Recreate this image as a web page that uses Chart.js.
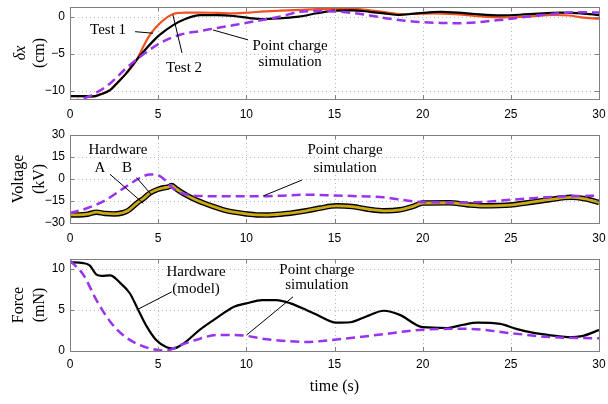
<!DOCTYPE html>
<html>
<head>
<meta charset="utf-8">
<script src="https://cdn.jsdelivr.net/npm/chart.js@4.4.0/dist/chart.umd.min.js"></script>
<style>
  body { margin: 0; background: #fff; }
  #wrap { position: relative; width: 608px; height: 404px; }
  canvas { position: absolute; left: 0; }
</style>
</head>
<body>
<div id="wrap">
  <canvas id="c1" width="608" height="122" style="top:0px"></canvas>
  <canvas id="c2" width="608" height="125" style="top:122px"></canvas>
  <canvas id="c3" width="608" height="157" style="top:247px"></canvas>
</div>
<script>
// ---- panel 1: displacement (cm) ----
var dxTimeT2 = [0, 0.85, 1.3, 1.7, 2.27, 2.65, 3.2, 3.78, 4.2, 4.7, 5.1, 5.85, 6.5, 7.4, 8.3, 9.3, 10.2, 10.9, 12, 13, 14, 15, 16, 17, 17.8, 18.7, 19.5, 21, 22, 23, 24.4, 25.5, 26.5, 27.8, 29, 30];
var dxTest2 =   [-10.7, -10.72, -10.75, -10.5, -9.9, -9.0, -7.6, -5.8, -4.6, -3.3, -2.4, -1.1, -0.3, 0.25, 0.25, 0.13, -0.15, -0.3, -0.15, 0.05, 0.5, 0.85, 0.9, 0.7, 0.5, 0.27, 0.45, 0.7, 0.6, 0.4, 0.23, 0.3, 0.45, 0.58, 0.5, 0.25];
var dxTimeT1 = [0, 0.85, 1.3, 1.7, 2.27, 2.65, 3.2, 3.78, 4.16, 4.54, 5.1, 5.85, 6.5, 7.4, 8.3, 9.3, 10.2, 11, 12, 13, 14, 15, 16, 17, 18, 18.7, 19.5, 20.6, 22, 23, 24.4, 25.5, 26.5, 27.4, 28.3, 29, 30];
var dxTest1 =   [-10.7, -10.72, -10.75, -10.5, -9.9, -9.0, -7.6, -5.8, -4.0, -2.4, -0.85, 0.4, 0.6, 0.6, 0.55, 0.5, 0.6, 0.75, 0.85, 0.95, 1.05, 1.1, 1.1, 0.9, 0.6, 0.4, 0.4, 0.5, 0.35, 0.15, -0.05, 0.0, 0.15, 0.27, 0.2, -0.05, -0.27];
var dxTimeSim = [0, 0.6, 1.3, 2.27, 3.2, 3.97, 5.1, 6.24, 7.4, 8.3, 9.3, 10.9, 12, 13, 14, 15, 16, 17, 18, 19, 20, 21, 22, 23, 24, 25, 26, 27, 28, 29, 30];
var dxSim =       [-11.4, -11.15, -10.5, -9.0, -6.9, -5.4, -3.55, -2.4, -1.9, -1.5, -1.1, -0.4, 0.1, 0.7, 0.8, 0.75, 0.55, 0.2, -0.2, -0.5, -0.7, -0.8, -0.85, -0.75, -0.5, -0.25, 0.05, 0.3, 0.55, 0.65, 0.6];
var dxTicks = [-10, -5, 0];

// ---- panel 2: voltage (kV) ----
var vTimeHw = [0, 0.5, 1.0, 1.5, 2.0, 2.5, 3.0, 3.3, 3.8, 4.2, 4.54, 5.0, 5.3, 5.55, 5.77, 6.0, 6.24, 6.6, 7.0, 7.5, 8.1, 8.7, 9.3, 10, 10.6, 11.2, 11.7, 12.5, 13.4, 14.2, 15.1, 16, 17, 17.8, 18.7, 19.5, 20, 21.5, 22.5, 23.4, 25.1, 26.2, 27.2, 28.4, 29.2, 30];
var vHardware = [-24.5, -24.5, -24, -22.6, -23.5, -23.8, -23, -21.5, -16.4, -13, -9.5, -7, -6, -5.5, -4.5, -6.5, -8.4, -11, -13.5, -16, -18.7, -21, -22.6, -23.8, -24.5, -24.6, -24.2, -23.3, -21.7, -19.8, -18.3, -18.8, -20.8, -21.7, -21, -18.5, -16.4, -16.2, -17.5, -18.3, -17.6, -15.8, -14.1, -12.5, -13.5, -16];
var vTimeSim = [0, 1, 2, 3.2, 3.97, 4.54, 5.1, 5.5, 5.8, 6.2, 6.8, 7.4, 9, 10.9, 12, 13.4, 15, 16.5, 17.8, 19, 20, 22.5, 25.1, 27, 28.2, 30];
var vSim =       [-23.3, -19.8, -14.5, -5, 0.8, 3.1, 2, -2, -6, -9, -11, -11.6, -11.8, -11.8, -11.4, -10.7, -11.2, -11.8, -12.5, -14.5, -15.7, -16, -14.1, -12.5, -11.8, -11.4];
var vTicks = [-30, -15, 0, 15, 30];

// ---- panel 3: force (mN) ----
var fTimeHw = [0, 0.75, 1.13, 1.5, 1.8, 2.27, 2.84, 3.4, 3.78, 4.35, 4.9, 5.48, 5.85, 6.43, 7.37, 8.3, 9.3, 10, 10.9, 11.7, 12.5, 13.4, 14, 15.1, 15.9, 16.8, 17.8, 18.7, 20, 21.4, 22.3, 23.1, 24.4, 25.3, 26.3, 27.3, 28.2, 29.1, 30];
var fHardware = [10.8, 10.7, 10.4, 9.3, 9.15, 9.2, 8.3, 7.0, 5.4, 3.0, 1.3, 0.45, 0.3, 0.9, 2.6, 4.0, 5.4, 5.8, 6.2, 6.2, 5.8, 5.0, 4.4, 3.45, 3.5, 4.2, 4.9, 4.4, 2.9, 2.8, 3.2, 3.45, 3.3, 2.7, 2.2, 1.9, 1.7, 1.85, 2.55];
var fTimeSim = [0, 0.75, 1.5, 2.27, 3.0, 3.78, 4.54, 5.48, 6.24, 7.37, 8.3, 9.3, 10, 10.9, 12, 13.4, 15.1, 17.8, 20, 22.5, 25.1, 27.2, 30];
var fSim =       [11.0, 9.3, 6.2, 3.6, 1.95, 0.9, 0.3, 0.05, 0.7, 1.5, 1.95, 1.95, 1.85, 1.5, 1.25, 1.1, 1.4, 2.05, 2.6, 2.7, 2.15, 1.7, 1.55];
var fTicks = [0, 5, 10];

var timeTicks = [0, 5, 10, 15, 20, 25, 30];

var PURPLE = '#9933ee';
var ORANGE = '#f4511e';
var GOLD = '#cbaa14';
var SERIF = '"Liberation Serif", "Times New Roman", serif';
var SANS = '"Liberation Sans", Arial, sans-serif';

function pts(ts, vs) {
  return ts.map(function (t, i) { return { x: t, y: vs[i] }; });
}

function line(data, color, width, dash) {
  return {
    data: data, borderColor: color, borderWidth: width, borderDash: dash || [],
    pointRadius: 0, fill: false, cubicInterpolationMode: 'monotone'
  };
}

// grid, box, inward ticks, y title and the text notes with leader lines
var framePlugin = {
  id: 'frame',
  beforeDatasetsDraw: function (chart) {
    var ctx = chart.ctx, a = chart.chartArea;
    var xs = chart.scales.x, ys = chart.scales.y;
    ctx.save();
    ctx.strokeStyle = '#b8b8b8';
    ctx.lineWidth = 1;
    ctx.setLineDash([1, 3]);
    timeTicks.forEach(function (v) {
      var px = Math.round(xs.getPixelForValue(v)) + 0.5;
      ctx.beginPath(); ctx.moveTo(px, a.top); ctx.lineTo(px, a.bottom); ctx.stroke();
    });
    chart.options.yTickList.forEach(function (v) {
      var py = Math.round(ys.getPixelForValue(v)) + 0.5;
      ctx.beginPath(); ctx.moveTo(a.left, py); ctx.lineTo(a.right, py); ctx.stroke();
    });
    ctx.restore();
  },
  afterDraw: function (chart) {
    var ctx = chart.ctx, a = chart.chartArea;
    var xs = chart.scales.x, ys = chart.scales.y;
    var o = chart.options;
    ctx.save();
    ctx.strokeStyle = '#808080';
    ctx.lineWidth = 1;
    ctx.setLineDash([]);
    ctx.strokeRect(Math.round(a.left) + 0.5, Math.round(a.top) + 0.5,
      Math.round(a.right - a.left), Math.round(a.bottom - a.top));
    // matlab style inward ticks
    ctx.beginPath();
    timeTicks.forEach(function (v) {
      var px = Math.round(xs.getPixelForValue(v)) + 0.5;
      ctx.moveTo(px, a.bottom); ctx.lineTo(px, a.bottom - 4);
      ctx.moveTo(px, a.top); ctx.lineTo(px, a.top + 4);
    });
    o.yTickList.forEach(function (v) {
      var py = Math.round(ys.getPixelForValue(v)) + 0.5;
      ctx.moveTo(a.left, py); ctx.lineTo(a.left + 4, py);
      ctx.moveTo(a.right, py); ctx.lineTo(a.right - 4, py);
    });
    ctx.stroke();

    // y title, two rotated lines
    var cy = (a.top + a.bottom) / 2;
    o.yTitle.forEach(function (t) {
      ctx.save();
      ctx.translate(t.px, cy);
      ctx.rotate(-Math.PI / 2);
      ctx.font = (t.italic ? 'italic ' : '') + '16px ' + SERIF;
      ctx.fillStyle = '#000';
      ctx.textAlign = 'center';
      ctx.textBaseline = 'middle';
      ctx.fillText(t.text, 0, 0);
      ctx.restore();
    });

    // notes
    ctx.strokeStyle = '#000';
    ctx.lineWidth = 1;
    (o.leaders || []).forEach(function (l) {
      ctx.beginPath();
      ctx.moveTo(xs.getPixelForValue(l[0]), ys.getPixelForValue(l[1]));
      ctx.lineTo(xs.getPixelForValue(l[2]), ys.getPixelForValue(l[3]));
      ctx.stroke();
    });
    ctx.font = '15px ' + SERIF;
    ctx.fillStyle = '#000';
    ctx.textAlign = 'center';
    ctx.textBaseline = 'middle';
    (o.notes || []).forEach(function (n) {
      ctx.fillText(n[0], xs.getPixelForValue(n[1]), ys.getPixelForValue(n[2]));
    });

    if (o.xTitle) {
      ctx.font = '16px ' + SERIF;
      ctx.fillText(o.xTitle, (a.left + a.right) / 2, a.bottom + 36);
    }
    ctx.restore();
  }
};

function fmt(v) {
  return v < 0 ? '\u2212' + Math.abs(v) : String(v);
}

function makeChart(id, datasets, cfg) {
  return new Chart(document.getElementById(id), {
    type: 'line',
    data: { datasets: datasets },
    plugins: [framePlugin],
    options: {
      responsive: false,
      animation: false,
      events: [],
      layout: { padding: { top: cfg.padTop, right: 9, left: 0, bottom: 0 } },
      plugins: { legend: { display: false }, tooltip: { enabled: false } },
      yTickList: cfg.yTicks,
      yTitle: cfg.yTitle,
      notes: cfg.notes,
      leaders: cfg.leaders,
      xTitle: cfg.xTitle,
      scales: {
        x: {
          type: 'linear', min: 0, max: 30,
          grid: { display: false, drawTicks: false },
          border: { display: false },
          afterBuildTicks: function (s) { s.ticks = timeTicks.map(function (v) { return { value: v }; }); },
          afterFit: function (s) { s.height = cfg.xAxisH; s.paddingLeft = 0; s.paddingRight = 0; },
          ticks: { padding: cfg.xPad, color: '#000', font: { family: SANS, size: 12 }, maxRotation: 0 }
        },
        y: {
          min: cfg.yMin, max: cfg.yMax,
          grid: { display: false, drawTicks: false },
          border: { display: false },
          afterBuildTicks: function (s) { s.ticks = cfg.yTicks.map(function (v) { return { value: v }; }); },
          afterFit: function (s) { s.width = 70; s.paddingTop = 0; s.paddingBottom = 0; },
          ticks: { padding: 5, color: '#000', font: { family: SANS, size: 12 }, callback: fmt }
        }
      }
    }
  });
}

makeChart('c1', [
  line(pts(dxTimeSim, dxSim), PURPLE, 2.5, [9, 5]),
  line(pts(dxTimeT2, dxTest2), '#000', 2.2),
  line(pts(dxTimeT1, dxTest1), ORANGE, 2.2)
], {
  padTop: 7, xAxisH: 23, xPad: 8, yMin: -11.1, yMax: 1.35, yTicks: dxTicks,
  yTitle: [{ text: '\u03b4x', px: 21, italic: true }, { text: '(cm)', px: 40 }],
  notes: [['Test 1', 2.16, -1.76], ['Test 2', 6.47, -6.9], ['Point charge', 12.48, -3.92], ['simulation', 12.48, -6.08]],
  leaders: [[3.69, -1.99, 4.71, -2.2], [5.84, 0.27, 6.35, -4.86], [8.11, -1.76, 10.1, -3.1]]
});

makeChart('c2', [
  line(pts(vTimeSim, vSim), PURPLE, 2.5, [9, 5]),
  line(pts(vTimeHw, vHardware), GOLD, 2.8),
  line(pts(vTimeHw, vHardware), '#000', 5.5)
], {
  padTop: 13, xAxisH: 24, xPad: 8, yMin: -30, yMax: 30, yTicks: vTicks,
  yTitle: [{ text: 'Voltage', px: 19 }, { text: '(kV)', px: 40 }],
  notes: [['Hardware', 2.72, 19.8], ['A', 1.7, 7.5], ['B', 3.23, 7.5], ['Point charge', 15.6, 19.4], ['simulation', 15.6, 7.5]],
  leaders: [[2.27, 3.2, 4.16, -16.6], [3.78, 0.9, 4.63, -10.9], [10.95, -11.6, 13.16, -0.7]]
});

makeChart('c3', [
  line(pts(fTimeSim, fSim), PURPLE, 2.5, [9, 5]),
  line(pts(fTimeHw, fHardware), '#000', 2.2)
], {
  padTop: 12, xAxisH: 53, xPad: 6, yMin: 0, yMax: 11.2, yTicks: fTicks,
  yTitle: [{ text: 'Force', px: 19 }, { text: '(mN)', px: 40 }],
  notes: [['Hardware', 7.15, 9.6], ['(model)', 7.15, 7.55], ['Point charge', 14.0, 9.85], ['simulation', 14.0, 8.05]],
  leaders: [[3.78, 5.0, 5.77, 7.2], [10.02, 1.95, 12.65, 6.6]],
  xTitle: 'time (s)'
});
</script>
</body>
</html>
